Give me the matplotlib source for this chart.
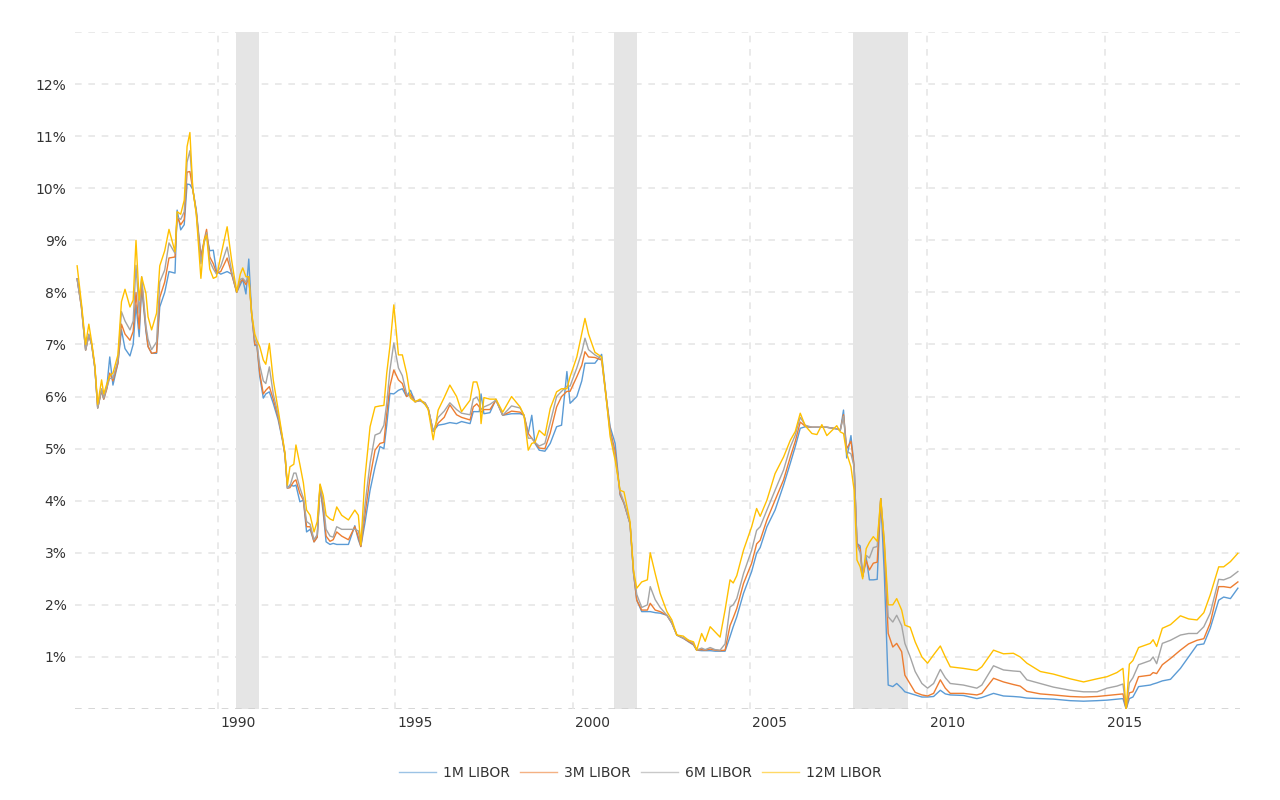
import numpy as np
import matplotlib
matplotlib.use('Agg')
import matplotlib.pyplot as plt
import matplotlib.transforms as mtransforms

# monthly-ish samples (decimal year)
dates = [
    1986.03, 1986.15, 1986.27, 1986.36, 1986.44, 1986.53, 1986.61, 1986.72, 1986.78, 1986.87,
    1986.95, 1987.04, 1987.18, 1987.28, 1987.38, 1987.52, 1987.61, 1987.69, 1987.78, 1987.85,
    1987.97, 1988.03, 1988.13, 1988.27, 1988.36, 1988.50, 1988.62, 1988.79, 1988.85, 1988.95,
    1989.05, 1989.13, 1989.21, 1989.29, 1989.39, 1989.52, 1989.61, 1989.68, 1989.77, 1989.87,
    1989.96, 1990.08, 1990.26, 1990.39, 1990.53, 1990.63, 1990.70, 1990.79, 1990.87, 1990.95,
    1991.04, 1991.10, 1991.18, 1991.28, 1991.35, 1991.45, 1991.56, 1991.70, 1991.82, 1991.89,
    1991.96, 1992.03, 1992.14, 1992.20, 1992.31, 1992.41, 1992.50, 1992.60, 1992.71, 1992.80,
    1992.88, 1992.97, 1993.05, 1993.16, 1993.25, 1993.35, 1993.49, 1993.68, 1993.86, 1993.96,
    1994.03, 1994.14, 1994.29, 1994.43, 1994.57, 1994.68, 1994.76, 1994.85, 1994.96, 1995.09,
    1995.20, 1995.32, 1995.43, 1995.56, 1995.70, 1995.84, 1995.93, 1996.07, 1996.21, 1996.38,
    1996.54, 1996.73, 1996.87, 1997.11, 1997.20, 1997.30, 1997.37, 1997.42, 1997.50, 1997.67,
    1997.84, 1998.03, 1998.28, 1998.52, 1998.63, 1998.75, 1998.85, 1998.94, 1999.06, 1999.22,
    1999.37, 1999.55, 1999.69, 1999.84, 1999.93, 2000.12, 2000.26, 2000.35, 2000.45, 2000.63,
    2000.82, 2000.96, 2001.06, 2001.20, 2001.34, 2001.45, 2001.62, 2001.72, 2001.81, 2001.95,
    2002.11, 2002.19, 2002.33, 2002.47, 2002.66, 2002.80, 2002.94, 2003.12, 2003.27, 2003.41,
    2003.50, 2003.64, 2003.74, 2003.88, 2004.02, 2004.16, 2004.30, 2004.44, 2004.53, 2004.63,
    2004.82, 2005.05, 2005.19, 2005.29, 2005.48, 2005.71, 2005.95, 2006.14, 2006.28, 2006.42,
    2006.56, 2006.75, 2006.89, 2007.03, 2007.17, 2007.45, 2007.55, 2007.64, 2007.73, 2007.85,
    2007.94, 2008.02, 2008.11, 2008.18, 2008.28, 2008.37, 2008.48, 2008.59, 2008.69, 2008.79,
    2008.90, 2009.03, 2009.14, 2009.28, 2009.37, 2009.52, 2009.66, 2009.85, 2010.01, 2010.18,
    2010.37, 2010.51, 2010.65, 2011.02, 2011.40, 2011.54, 2011.87, 2012.15, 2012.43, 2012.62,
    2012.81, 2013.19, 2013.56, 2014.03, 2014.41, 2014.79, 2015.07, 2015.35, 2015.52, 2015.61,
    2015.70, 2015.80, 2015.96, 2016.29, 2016.37, 2016.47, 2016.63, 2016.86, 2017.14, 2017.37,
    2017.61, 2017.80, 2017.98, 2018.22, 2018.36, 2018.55, 2018.76,
]

libor_1m = [
    8.26, 7.75, 6.90, 7.18, 7.00, 6.55, 5.78, 6.12, 5.95, 6.20,
    6.76, 6.22, 6.64, 7.28, 6.92, 6.78, 7.00, 7.76, 7.15, 8.10,
    7.25, 6.96, 6.83, 6.83, 7.72, 8.00, 8.40, 8.37, 9.58, 9.20,
    9.30, 10.08, 10.07, 9.98, 9.58, 8.70, 8.96, 9.10, 8.80, 8.81,
    8.40, 8.35, 8.40, 8.35, 8.00, 8.15, 8.25, 7.97, 8.64, 7.60,
    6.98, 6.98, 6.38, 5.97, 6.05, 6.09, 5.87, 5.55, 5.16, 4.88,
    4.24, 4.30, 4.28, 4.30, 3.98, 4.01, 3.40, 3.45, 3.21, 3.30,
    4.27, 3.76, 3.21, 3.16, 3.18, 3.16, 3.16, 3.16, 3.52, 3.25,
    3.12, 3.55, 4.20, 4.65, 5.04, 5.00, 5.45, 6.06, 6.05, 6.12,
    6.15, 6.00, 6.12, 5.90, 5.93, 5.85, 5.77, 5.33, 5.45, 5.47,
    5.50, 5.48, 5.52, 5.48, 5.71, 5.71, 5.71, 6.05, 5.67, 5.69,
    5.95, 5.64, 5.67, 5.67, 5.64, 5.29, 5.64, 5.10, 4.97, 4.95,
    5.10, 5.42, 5.45, 6.48, 5.87, 6.00, 6.30, 6.64, 6.64, 6.64,
    6.81, 5.93, 5.42, 5.10, 4.11, 3.95, 3.56, 2.61, 2.09, 1.87,
    1.87, 1.87, 1.85, 1.84, 1.80, 1.65, 1.42, 1.36, 1.29, 1.23,
    1.13, 1.12, 1.12, 1.12, 1.11, 1.11, 1.11, 1.39, 1.58, 1.77,
    2.22, 2.64, 2.99, 3.10, 3.50, 3.82, 4.30, 4.72, 5.04, 5.39,
    5.42, 5.41, 5.41, 5.41, 5.41, 5.38, 5.35, 5.74, 4.82, 5.25,
    4.65, 3.18, 3.13, 2.54, 2.91, 2.48, 2.48, 2.49, 4.04, 2.60,
    0.46, 0.43, 0.49, 0.40, 0.33, 0.30, 0.27, 0.23, 0.23, 0.24,
    0.36, 0.29, 0.27, 0.26, 0.20, 0.22, 0.30, 0.25, 0.24, 0.23,
    0.21, 0.20, 0.19, 0.16, 0.15, 0.16, 0.17, 0.19, 0.20, 0.00,
    0.20, 0.23, 0.43, 0.46, 0.48, 0.50, 0.54, 0.57, 0.78, 1.00,
    1.23, 1.25, 1.55, 2.09, 2.15, 2.12, 2.32,
]

libor_3m = [
    8.26, 7.72, 6.89, 7.18, 7.00, 6.55, 5.78, 6.12, 5.95, 6.15,
    6.45, 6.30, 6.64, 7.39, 7.20, 7.08, 7.25, 8.00, 7.30, 8.20,
    7.30, 6.96, 6.83, 6.85, 7.90, 8.20, 8.66, 8.68, 9.45, 9.30,
    9.40, 10.31, 10.32, 9.98, 9.55, 8.65, 9.00, 9.21, 8.68, 8.55,
    8.37, 8.40, 8.66, 8.35, 8.00, 8.20, 8.25, 8.15, 8.30, 7.60,
    7.00, 6.99, 6.45, 6.05, 6.12, 6.19, 5.95, 5.60, 5.18, 4.88,
    4.24, 4.25, 4.37, 4.40, 4.14, 4.01, 3.50, 3.50, 3.21, 3.30,
    4.30, 3.85, 3.32, 3.22, 3.25, 3.40, 3.32, 3.25, 3.50, 3.30,
    3.12, 3.70, 4.45, 4.97, 5.10, 5.12, 5.67, 6.20, 6.51, 6.32,
    6.25, 6.00, 6.05, 5.90, 5.92, 5.88, 5.77, 5.33, 5.49, 5.60,
    5.84, 5.65, 5.60, 5.55, 5.80, 5.86, 5.80, 5.70, 5.75, 5.75,
    5.93, 5.64, 5.72, 5.70, 5.64, 5.29, 5.20, 5.12, 5.01, 5.00,
    5.30, 5.80, 6.00, 6.10, 6.10, 6.38, 6.60, 6.86, 6.76, 6.75,
    6.70, 5.93, 5.35, 4.95, 4.13, 3.95, 3.56, 2.61, 2.09, 1.90,
    1.90, 2.03, 1.90, 1.87, 1.80, 1.65, 1.42, 1.36, 1.30, 1.24,
    1.13, 1.14, 1.13, 1.15, 1.13, 1.12, 1.13, 1.60, 1.75, 1.93,
    2.41, 2.80, 3.17, 3.24, 3.63, 4.01, 4.40, 4.84, 5.14, 5.51,
    5.43, 5.41, 5.41, 5.41, 5.41, 5.38, 5.36, 5.65, 5.00, 5.14,
    4.65, 3.18, 3.07, 2.54, 2.85, 2.67, 2.80, 2.82, 4.04, 3.10,
    1.45, 1.19, 1.26, 1.10, 0.65, 0.48, 0.32, 0.27, 0.25, 0.30,
    0.56, 0.40, 0.30, 0.30, 0.27, 0.30, 0.59, 0.52, 0.47, 0.44,
    0.34, 0.29, 0.27, 0.24, 0.23, 0.24, 0.26, 0.28, 0.29, 0.00,
    0.31, 0.33, 0.62, 0.65, 0.70, 0.68, 0.85, 0.97, 1.13, 1.25,
    1.32, 1.35, 1.65, 2.35, 2.35, 2.33, 2.44,
]

libor_6m = [
    8.26, 7.72, 6.89, 7.20, 7.00, 6.55, 5.78, 6.15, 5.97, 6.18,
    6.35, 6.35, 6.70, 7.63, 7.45, 7.28, 7.45, 8.52, 7.60, 8.30,
    7.35, 7.10, 6.90, 7.05, 8.20, 8.43, 8.95, 8.75, 9.45, 9.40,
    9.55, 10.50, 10.72, 10.00, 9.52, 8.55, 8.96, 9.15, 8.60, 8.45,
    8.35, 8.50, 8.87, 8.40, 8.01, 8.25, 8.27, 8.20, 8.30, 7.60,
    7.10, 7.02, 6.60, 6.30, 6.25, 6.57, 6.05, 5.65, 5.20, 4.90,
    4.24, 4.28, 4.53, 4.53, 4.25, 4.05, 3.60, 3.55, 3.25, 3.35,
    4.30, 3.95, 3.45, 3.32, 3.30, 3.50, 3.45, 3.45, 3.45, 3.42,
    3.15, 3.88, 4.72, 5.26, 5.30, 5.45, 5.87, 6.51, 7.03, 6.55,
    6.40, 6.05, 6.00, 5.90, 5.92, 5.88, 5.77, 5.33, 5.60, 5.72,
    5.88, 5.75, 5.68, 5.65, 5.95, 5.99, 5.90, 5.75, 5.80, 5.85,
    5.93, 5.64, 5.82, 5.78, 5.64, 5.20, 5.20, 5.12, 5.05, 5.10,
    5.50, 6.00, 6.10, 6.20, 6.20, 6.55, 6.85, 7.12, 6.90, 6.80,
    6.72, 5.90, 5.30, 4.85, 4.17, 3.97, 3.56, 2.61, 2.20, 1.95,
    2.00, 2.35, 2.10, 1.95, 1.80, 1.65, 1.42, 1.36, 1.32, 1.26,
    1.13, 1.17, 1.14, 1.18, 1.14, 1.13, 1.25, 1.96, 2.00, 2.12,
    2.60, 3.05, 3.43, 3.50, 3.82, 4.20, 4.59, 5.03, 5.26, 5.60,
    5.45, 5.41, 5.41, 5.41, 5.41, 5.38, 5.36, 5.62, 4.95, 4.90,
    4.65, 3.15, 3.00, 2.54, 2.95, 2.90, 3.10, 3.12, 4.04, 3.22,
    1.77, 1.67, 1.80, 1.60, 1.26, 1.00, 0.72, 0.49, 0.40, 0.49,
    0.76, 0.60, 0.49, 0.46, 0.40, 0.46, 0.83, 0.75, 0.73, 0.72,
    0.56, 0.49, 0.42, 0.36, 0.33, 0.33, 0.40, 0.44, 0.48, 0.00,
    0.50, 0.60, 0.85, 0.93, 1.00, 0.87, 1.26, 1.32, 1.42, 1.45,
    1.45, 1.58, 1.84, 2.49, 2.48, 2.53, 2.64,
]

libor_12m = [
    8.51, 7.80, 7.00, 7.39, 7.05, 6.60, 5.85, 6.32, 6.05, 6.25,
    6.40, 6.45, 6.80, 7.82, 8.06, 7.72, 7.85, 9.00, 7.85, 8.30,
    7.98, 7.53, 7.28, 7.60, 8.51, 8.80, 9.21, 8.78, 9.55, 9.50,
    9.77, 10.80, 11.07, 10.00, 9.50, 8.27, 9.00, 9.10, 8.45, 8.27,
    8.30, 8.70, 9.26, 8.60, 8.01, 8.35, 8.47, 8.30, 8.30, 7.60,
    7.20, 7.08, 6.96, 6.70, 6.62, 7.02, 6.32, 5.74, 5.22, 4.92,
    4.30, 4.65, 4.70, 5.07, 4.70, 4.34, 3.82, 3.72, 3.40, 3.60,
    4.32, 4.10, 3.72, 3.65, 3.62, 3.88, 3.72, 3.63, 3.82, 3.72,
    3.15, 4.40, 5.42, 5.80, 5.82, 5.83, 6.45, 6.96, 7.76, 6.80,
    6.80, 6.45, 5.97, 5.90, 5.95, 5.85, 5.75, 5.17, 5.74, 5.98,
    6.22, 6.00, 5.71, 5.93, 6.28, 6.28, 6.10, 5.48, 5.98, 5.95,
    5.95, 5.70, 6.00, 5.80, 5.64, 4.97, 5.10, 5.12, 5.35, 5.25,
    5.77, 6.09, 6.15, 6.15, 6.38, 6.76, 7.21, 7.50, 7.20, 6.85,
    6.76, 5.90, 5.23, 4.78, 4.20, 4.17, 3.60, 2.65, 2.32, 2.44,
    2.48, 3.00, 2.60, 2.22, 1.87, 1.71, 1.42, 1.40, 1.32, 1.29,
    1.13, 1.45, 1.30, 1.58, 1.48, 1.38, 1.90, 2.48, 2.42, 2.56,
    3.05, 3.50, 3.85, 3.70, 4.01, 4.52, 4.84, 5.16, 5.33, 5.68,
    5.44, 5.29, 5.27, 5.46, 5.25, 5.44, 5.32, 5.29, 4.91, 4.65,
    4.20, 2.86, 2.73, 2.50, 3.08, 3.20, 3.31, 3.22, 4.04, 3.22,
    2.00, 2.00, 2.12, 1.90, 1.61, 1.57, 1.29, 1.00, 0.88, 1.04,
    1.21, 1.00, 0.81, 0.78, 0.74, 0.81, 1.13, 1.06, 1.07, 1.00,
    0.88, 0.72, 0.67, 0.58, 0.52, 0.58, 0.62, 0.70, 0.78, 0.00,
    0.86, 0.93, 1.18, 1.26, 1.33, 1.20, 1.55, 1.62, 1.79, 1.73,
    1.71, 1.85, 2.19, 2.73, 2.73, 2.83, 2.99,
]

series_names = ['1M LIBOR', '3M LIBOR', '6M LIBOR', '12M LIBOR']
series_colors = ['#5B9BD5', '#ED7D31', '#A5A5A5', '#FFC000']

# recession bands (start, end)
recessions = [(1990.50, 1991.15), (2001.17, 2001.83), (2007.92, 2009.47)]

year_ticks = [1990, 1995, 2000, 2005, 2010, 2015]
pct_ticks = list(range(1, 13))

fig = plt.figure(figsize=(12.8, 8), dpi=100)
ax = fig.add_axes([75 / 1280, 91 / 800, 1165 / 1280, 677 / 800])

for start, end in recessions:
    ax.axvspan(start, end, color='#e5e5e5', lw=0, zorder=0)

for vals, name, col in zip([libor_1m, libor_3m, libor_6m, libor_12m], series_names, series_colors):
    ax.plot(dates, vals, color=col, lw=1.0, label=name, zorder=3)

ax.set_xlim(1985.97, 2018.82)
ax.set_ylim(0, 13)

# gridlines: every 1% and every 5 years, light dashed
for v in range(0, 14):
    ax.axhline(v, color='#cfcfcf' if v == 0 else '#e6e6e6', lw=1.2, dashes=(4, 4), zorder=1)
for yr in year_ticks:
    ax.axvline(yr, color='#e6e6e6', lw=1.2, dashes=(4, 4), zorder=1)

ax.set_yticks(pct_ticks)
ax.set_yticklabels([f'{v}%' for v in pct_ticks])
ax.set_xticks(year_ticks)
ax.set_xticklabels([str(y) for y in year_ticks])
ax.tick_params(axis='both', length=0, labelsize=10, labelcolor='#333333')
ax.tick_params(axis='y', pad=6)
ax.tick_params(axis='x', pad=5)
# year labels sit a bit right of the Jan-1 gridline
offset = mtransforms.ScaledTranslation(0.20, 0, fig.dpi_scale_trans)
for lbl in ax.get_xticklabels():
    lbl.set_transform(lbl.get_transform() + offset)

for sp in ax.spines.values():
    sp.set_visible(False)

leg = fig.legend(*ax.get_legend_handles_labels(), loc='center', bbox_to_anchor=(0.5, 27 / 800),
                 ncol=4, frameon=False, fontsize=10, handlelength=2.7, columnspacing=0.75,
                 handletextpad=0.45)
for h in leg.legend_handles:
    h.set_alpha(0.6)
for t in leg.get_texts():
    t.set_color('#333333')

fig.savefig('out.png', dpi=100)
